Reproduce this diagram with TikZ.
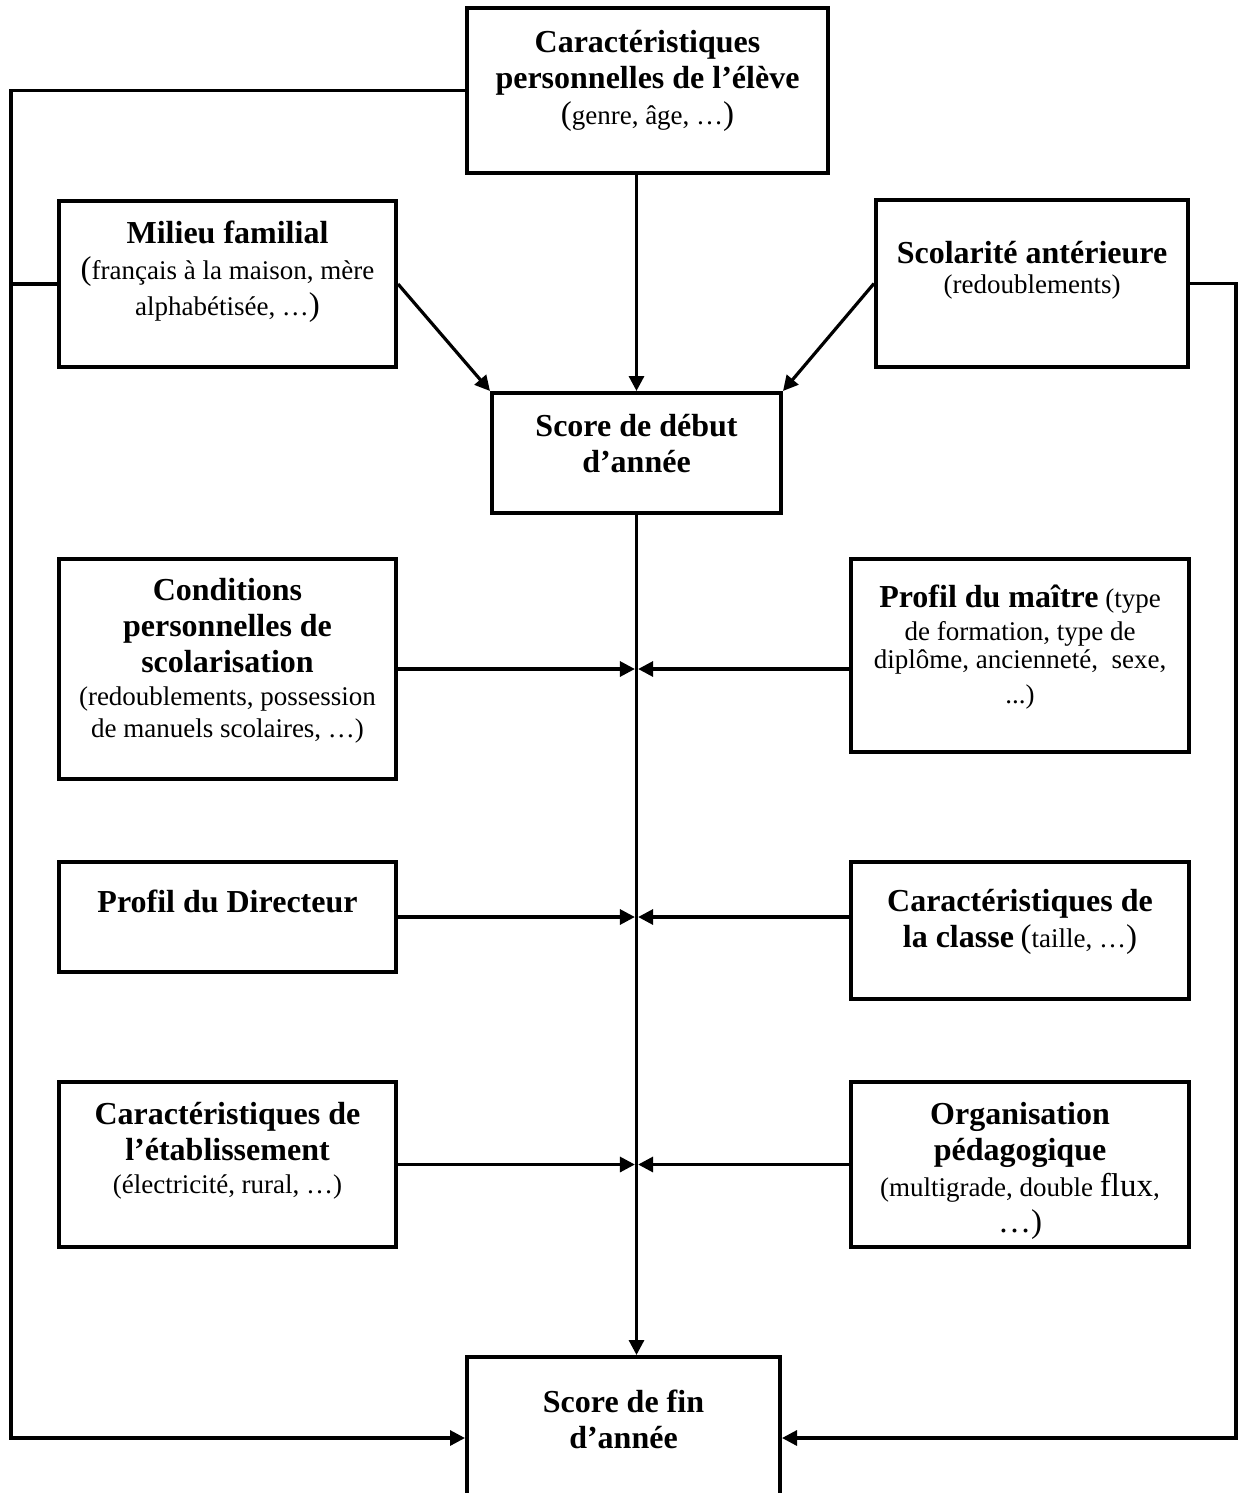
\documentclass[tikz,border=0pt]{standalone}
\usepackage{fontspec}
\setmainfont{Liberation Serif}
\usetikzlibrary{arrows.meta}
\newcommand\hbld[1]{{\fontsize{16}{18}\selectfont\bfseries #1}}
\newcommand\hnrm[1]{{\fontsize{13.5}{18}\selectfont #1}}
\newcommand\hpar[1]{{\fontsize{16.5}{18}\selectfont #1}}
\begin{document}
\begin{tikzpicture}[x=0.5pt,y=-0.5pt,
  box/.style={draw,line width=2pt,rectangle,inner sep=0pt},
  txt/.style={align=center,anchor=base,inner sep=0pt,font=\fontsize{13.5}{18}\selectfont},
  conn/.style={line width=1.6pt},
  arr/.style={conn,-{Triangle[length=7.5pt,width=7.5pt]}},
]
\useasboundingbox (0,0) rectangle (1240,1493);
\fill[white] (0,0) rectangle (1240,1493);

% boxes
\node[box,minimum width=180.5pt,minimum height=82.5pt] (top) at (647.5,90.5) {};
\node[box,minimum width=168.5pt,minimum height=83pt] (mil) at (227.5,284) {};
\node[box,minimum width=156pt,minimum height=83.5pt] (scol) at (1032,283.5) {};
\node[box,minimum width=144.5pt,minimum height=60pt] (deb) at (636.5,453) {};
\node[box,minimum width=168.5pt,minimum height=110pt] (cond) at (227.5,669) {};
\node[box,minimum width=169pt,minimum height=96.5pt] (mait) at (1020,655.5) {};
\node[box,minimum width=168.5pt,minimum height=55pt] (dir) at (227.5,917) {};
\node[box,minimum width=169pt,minimum height=68.5pt] (cls) at (1020,930.5) {};
\node[box,minimum width=168.5pt,minimum height=82.5pt] (etab) at (227.5,1164.5) {};
\node[box,minimum width=169pt,minimum height=82.5pt] (org) at (1020,1164.5) {};
\node[box,minimum width=156.5pt,minimum height=81pt] (fin) at (623.5,1438) {};

% texts (anchored at the baseline of their last line)
\node[txt] (ttop) at (647.5,125) {\hbld{Caractéristiques}\\\hbld{personnelles de l’élève}\\\hpar{(}\hnrm{genre, âge, …}\hpar{)}};
\node[txt] (tmil) at (227.5,315) {\hbld{Milieu familial}\\\hpar{(}\hnrm{français à la maison, mère}\\\hnrm{alphabétisée, …}\hpar{)}};
\node[txt] (tscol) at (1032,293) {\hbld{Scolarité antérieure}\\[-3pt]\hnrm{(redoublements)}};
\node[txt] (tdeb) at (636.5,472) {\hbld{Score de début}\\\hbld{d’année}};
\node[txt] (tcond) at (227.5,737) {\hbld{Conditions}\\\hbld{personnelles de}\\\hbld{scolarisation}\\[-1.5pt]\hnrm{(redoublements, possession}\\[-2pt]\hnrm{de manuels scolaires, …)}};
\node[txt] (tmait) at (1020,703) {\hbld{Profil du maître} \hnrm{(type}\\[-1.5pt]\hnrm{de formation, type de}\\[-4pt]\hnrm{diplôme, ancienneté,\ \ sexe,}\\[-0.5pt]\hnrm{...)}};
\node[txt] (tdir) at (227.5,912) {\hbld{Profil du Directeur}};
\node[txt] (tcls) at (1020,947) {\hbld{Caractéristiques de}\\\hbld{la classe} \hpar{(}\hnrm{taille, …}\hpar{)}};
\node[txt] (tetab) at (227.5,1193) {\hbld{Caractéristiques de}\\\hbld{l’établissement}\\[-1.5pt]\hnrm{(électricité, rural, …)}};
\node[txt] (torg) at (1020,1232) {\hbld{Organisation}\\\hbld{pédagogique}\\\hnrm{(multigrade, double} \hpar{flux},\\\hpar{…)}};
\node[txt] (tfin) at (623.5,1448) {\hbld{Score de fin}\\\hbld{d’année}};

% rails
\coordinate (L) at (11,0);
\coordinate (R) at (1236,0);

% connectors
\draw[arr] (top.west) -| (L |- fin.west) -- (fin.west);
\draw[conn] (mil.west) -- (mil.west -| L);
\draw[arr] (scol.east) -| (R |- fin.east) -- (fin.east);
\draw[arr] (deb.north |- top.south) -- (deb.north);
\draw[arr] (mil.east) -- (deb.north west);
\draw[arr] (scol.west) -- (deb.north east);
\draw[arr] (deb.south) -- (deb.south |- fin.north);

\draw[arr] (cond.east) -- ([xshift=-0.8pt]deb.south |- cond.east);
\draw[arr] (mait.west |- cond.east) -- ([xshift=0.8pt]deb.south |- cond.east);
\draw[arr] (dir.east) -- ([xshift=-0.8pt]deb.south |- dir.east);
\draw[arr] (cls.west |- dir.east) -- ([xshift=0.8pt]deb.south |- dir.east);
\draw[arr] (etab.east) -- ([xshift=-0.8pt]deb.south |- etab.east);
\draw[arr] (org.west) -- ([xshift=0.8pt]deb.south |- org.west);
\end{tikzpicture}
\end{document}
